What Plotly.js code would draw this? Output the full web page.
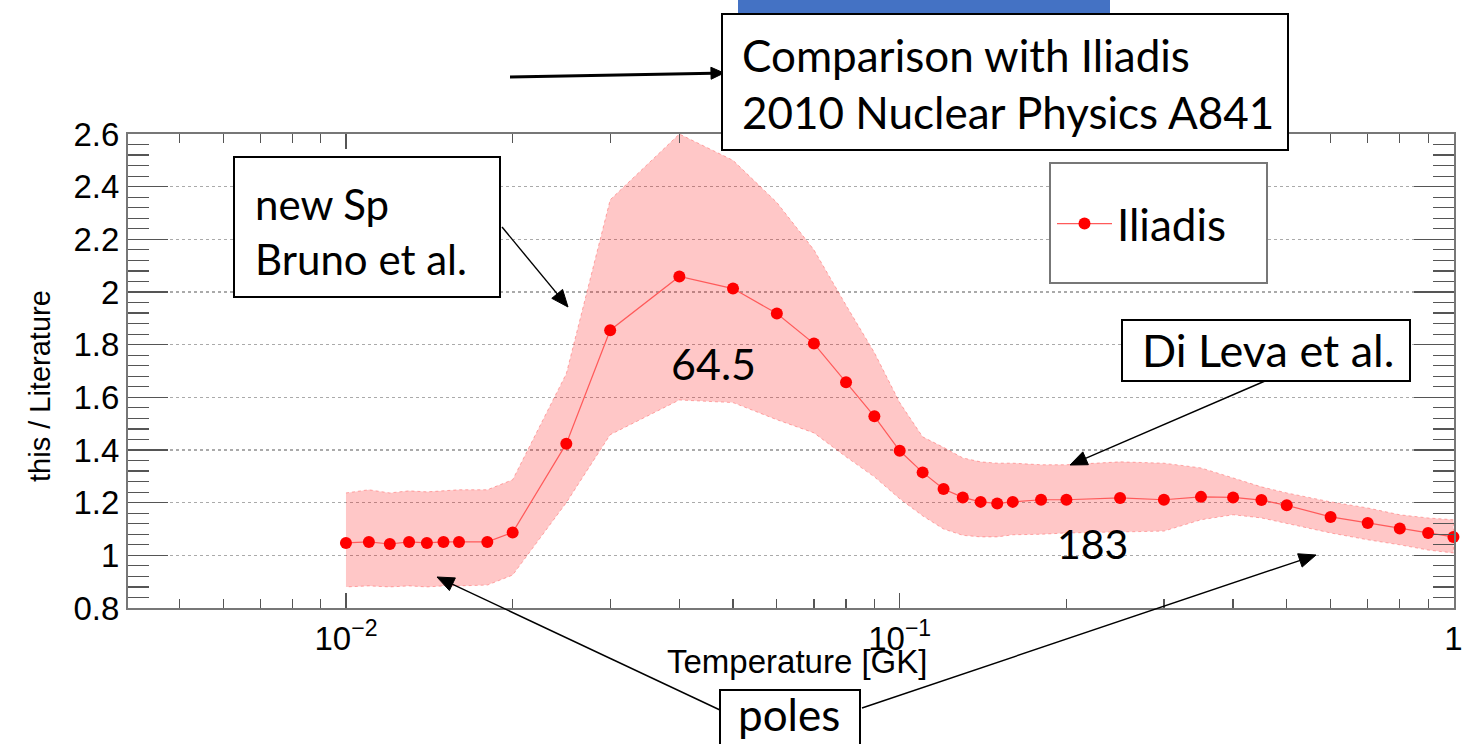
<!DOCTYPE html>
<html>
<head>
<meta charset="utf-8">
<script src="https://cdn.plot.ly/plotly-3.0.1.min.js"></script>
<style>html,body{margin:0;padding:0;background:#fff;}#chart{width:1471px;height:744px;}</style>
</head>
<body>
<div id="chart"></div>
<script>
// Temperature grid [GK]
const T = [0.010,0.011,0.012,0.013,0.014,0.015,0.016,0.018,0.020,0.025,0.030,0.040,0.050,0.060,0.070,0.080,0.090,0.10,0.11,0.12,0.13,0.14,0.15,0.16,0.18,0.20,0.25,0.30,0.35,0.40,0.45,0.50,0.60,0.70,0.80,0.90,1.0];
// this / Literature (Iliadis) central ratio
const ratio = [1.047,1.051,1.043,1.051,1.047,1.051,1.051,1.051,1.087,1.424,1.855,2.059,2.013,1.918,1.804,1.657,1.528,1.397,1.315,1.252,1.220,1.203,1.197,1.203,1.211,1.211,1.218,1.211,1.222,1.220,1.210,1.190,1.146,1.123,1.102,1.085,1.070];
// uncertainty band
const upper = [1.237,1.249,1.237,1.245,1.241,1.245,1.249,1.249,1.287,1.690,2.350,2.600,2.500,2.340,2.160,1.950,1.770,1.580,1.450,1.410,1.370,1.355,1.350,1.350,1.344,1.344,1.355,1.350,1.332,1.294,1.260,1.237,1.203,1.180,1.154,1.142,1.135];
const lower = [0.880,0.884,0.880,0.884,0.880,0.884,0.884,0.887,0.925,1.200,1.458,1.590,1.580,1.515,1.465,1.374,1.298,1.215,1.150,1.100,1.076,1.070,1.070,1.078,1.080,1.085,1.089,1.092,1.135,1.154,1.142,1.120,1.085,1.059,1.040,1.020,1.009];
// axis ticks
const xTickVals = [0.01, 0.1, 1];
const xTickText = ['10<sup>−2</sup>', '10<sup>−1</sup>', '1'];
const xMinorVals = [0.005,0.006,0.007,0.008,0.009,0.02,0.03,0.04,0.05,0.06,0.07,0.08,0.09,0.2,0.3,0.4,0.5,0.6,0.7,0.8,0.9];
const seriesName = 'Iliadis';
const xTitle = 'Temperature [GK]';
const yTitle = 'this / Literature';

// layout helpers: page pixel -> paper coordinate
const L = 128, R = 17, TOP = 134, B = 136, W = 1471, H = 744;
const PW = W - L - R, PH = H - TOP - B;
const X = px => (px - L) / PW;
const Y = py => (H - B - py) / PH;

const band = {
  x: T.concat(T.slice().reverse()),
  y: upper.concat(lower.slice().reverse()),
  type: 'scatter', mode: 'lines', fill: 'toself',
  fillcolor: 'rgba(255,0,0,0.22)',
  line: {color: 'rgba(255,60,60,0.4)', width: 1, dash: 'dot'},
  showlegend: false, hoverinfo: 'skip', name: 'band'
};
const main = {
  x: T, y: ratio, type: 'scatter', mode: 'lines+markers', name: seriesName,
  line: {color: '#ff5a5a', width: 1.2},
  marker: {color: '#ff0000', size: 12},
  cliponaxis: false
};

const axFont = 'Liberation Sans, Arial, sans-serif';
const tickFont = {family: axFont, size: 33, color: '#000'};
const slideFont = (s) => ({family: 'Lato, sans-serif', size: s, color: '#000'});

function box(x0, y0, x1, y1, color, w) {
  return {type: 'rect', xref: 'paper', yref: 'paper', x0: X(x0), x1: X(x1), y0: Y(y1), y1: Y(y0),
    fillcolor: '#fff', line: {color: color || '#000', width: w || 2}, layer: 'above'};
}
function label(text, px, py, size) {
  return {xref: 'paper', yref: 'paper', x: X(px), y: Y(py), xanchor: 'left', yanchor: 'middle',
    text: text, showarrow: false, font: slideFont(size), align: 'left'};
}
// arrow as shapes: line from tail (sx,sy) to tip (tx,ty) with filled triangular head
function arrowShapes(tx, ty, sx, sy, w, hl, hw) {
  const dx = tx - sx, dy = ty - sy, len = Math.hypot(dx, dy);
  const ux = dx / len, uy = dy / len, nx = -uy, ny = ux;
  const bx = tx - ux * hl, by = ty - uy * hl;
  const p1 = [bx + nx * hw, by + ny * hw], p2 = [bx - nx * hw, by - ny * hw];
  const path = `M${X(tx)},${Y(ty)} L${X(p1[0])},${Y(p1[1])} L${X(p2[0])},${Y(p2[1])} Z`;
  return [
    {type: 'line', xref: 'paper', yref: 'paper', x0: X(sx), y0: Y(sy), x1: X(bx + ux * 2), y1: Y(by + uy * 2),
      line: {color: '#000', width: w}, layer: 'above'},
    {type: 'path', xref: 'paper', yref: 'paper', path: path, fillcolor: '#000',
      line: {color: '#000', width: 1}, layer: 'above'}
  ];
}

const layout = {
  width: W, height: H,
  margin: {l: L, r: R, t: TOP, b: B},
  paper_bgcolor: '#fff', plot_bgcolor: '#fff',
  showlegend: true,
  legend: {x: X(1052), y: Y(224), xanchor: 'left', yanchor: 'middle', bgcolor: 'rgba(0,0,0,0)',
    borderwidth: 0, font: slideFont(44), itemwidth: 55},
  xaxis: {
    type: 'log', range: [Math.log10(0.00404), 0.001],
    tickvals: xTickVals, ticktext: xTickText,
    ticks: 'inside', ticklen: 15, tickwidth: 1.5, tickcolor: '#555',
    minor: {tickvals: xMinorVals, ticks: 'inside', ticklen: 9, tickwidth: 1.2, tickcolor: '#555', showgrid: false},
    showline: true, linecolor: '#777', linewidth: 2, mirror: 'ticks',
    showgrid: false, zeroline: false, tickfont: tickFont
  },
  yaxis: {
    range: [0.8, 2.6], tick0: 0.8, dtick: 0.2,
    ticks: 'inside', ticklen: 40, tickwidth: 1.5, tickcolor: '#555',
    minor: {dtick: 0.04, ticks: 'inside', ticklen: 21, tickwidth: 1.2, tickcolor: '#555', showgrid: false},
    showline: true, linecolor: '#777', linewidth: 2, mirror: 'ticks',
    showgrid: true, gridcolor: '#aaa', griddash: 'dot', gridwidth: 1.5, zeroline: false,
    tickfont: tickFont
  },
  shapes: [
    {type: 'rect', xref: 'paper', yref: 'paper', x0: X(738), x1: X(1110), y0: Y(14), y1: Y(0),
      fillcolor: '#4472C4', line: {width: 0}, layer: 'above'},
    ...arrowShapes(724, 73, 510, 77, 3, 13, 6),
    box(722, 14, 1288, 150),
    box(234, 157, 500, 297),
    box(1050, 163, 1267, 283, '#777', 2),
    box(1122, 320, 1410, 381),
    box(720, 690, 860, 752),
    ...arrowShapes(568, 307, 502, 227, 1.4, 17, 7),
    ...arrowShapes(1070, 465, 1265, 381, 1.4, 17, 7),
    ...arrowShapes(437, 577, 720, 710, 1.4, 17, 7),
    ...arrowShapes(1316, 555, 862, 708, 1.4, 17, 7)
  ],
  annotations: [
    // axis titles
    {xref: 'paper', yref: 'paper', x: X(797), y: Y(661), xanchor: 'center', yanchor: 'middle',
      text: xTitle, showarrow: false, font: {family: axFont, size: 33, color: '#000'}},
    {xref: 'paper', yref: 'paper', x: X(40), y: Y(386), xanchor: 'center', yanchor: 'middle',
      text: yTitle, textangle: -90, showarrow: false, font: {family: axFont, size: 29, color: '#000'}},
    // slide overlays
    label('Comparison with Iliadis<br>2010 Nuclear Physics A841', 740, 83, 44),
    label('new Sp<br>Bruno et al.', 253, 231, 42),
    label('Di Leva et al.', 1140, 350, 45),
    label('poles', 736, 714, 44),
    label('64.5', 669, 363, 43),
    label('183', 1055, 543, 41)
  ]
};

Plotly.newPlot('chart', [band, main], layout, {displayModeBar: false, staticPlot: true});
</script>
</body>
</html>
